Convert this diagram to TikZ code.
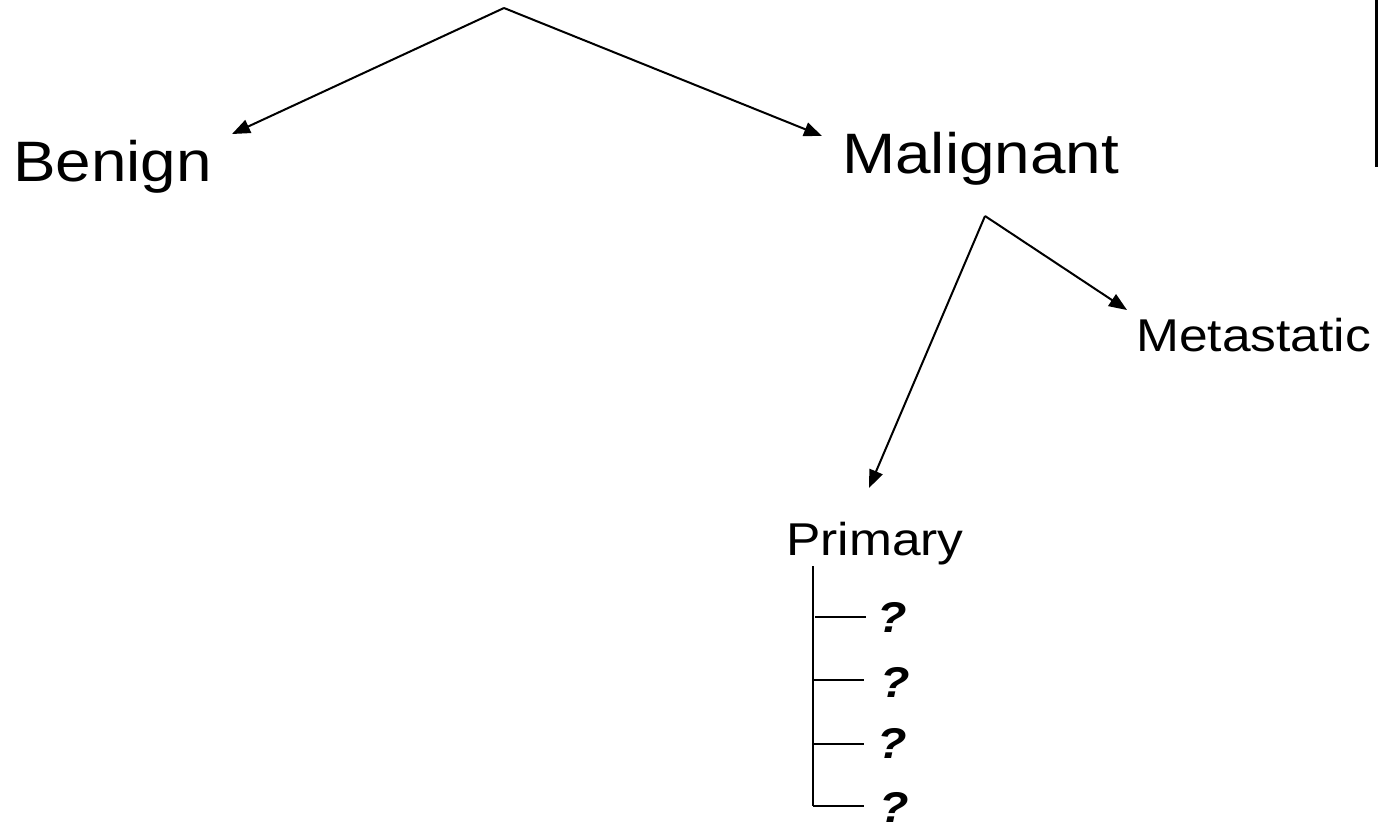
\documentclass[tikz,border=0pt]{standalone}
\usepackage{fontspec}
\setmainfont{Liberation Sans}
\usetikzlibrary{arrows.meta}
\newcommand{\wide}[1]{\scalebox{1.12}[1]{#1}}
\tikzset{
  bigtxt/.style={font=\fontsize{57}{68}\selectfont, inner sep=0pt, anchor=base west},
  midtxt/.style={font=\fontsize{46}{55}\selectfont, inner sep=0pt, anchor=base west},
  qtxt/.style={font=\fontsize{43}{52}\selectfont\bfseries\itshape, inner sep=0pt, anchor=base west},
  arr/.style={line width=2pt, -{Triangle[length=18pt,width=14pt]}},
  ladder/.style={line width=2.7pt},
}
\begin{document}
\begin{tikzpicture}[x=1pt,y=-1pt]
\useasboundingbox (0,0) rectangle (1389,825);
% text nodes
\node[bigtxt] (benign) at (13,181) {\wide{Benign}};
\node[bigtxt] (malignant) at (842,173) {\wide{Malignant}};
\node[midtxt] (metastatic) at (1136,351) {\wide{Metastatic}};
\node[midtxt] (primary) at (786,555) {\wide{Primary}};
\node[qtxt] (q1) at (877,632) {\wide{?}};
\node[qtxt] (q2) at (880,697) {\wide{?}};
\node[qtxt] (q3) at (877,758) {\wide{?}};
\node[qtxt] (q4) at (879,822) {\wide{?}};
% coordinates
\coordinate (top) at (504,8);
\coordinate (tipB) at (232,134);
\coordinate (tipM) at (822,136);
\coordinate (mtop) at (985,216);
\coordinate (tipMet) at (1127,310);
\coordinate (tipP) at (869,488);
\coordinate (lTop) at (813,566);
\coordinate (lBot) at (813,806);
\coordinate (h1a) at (815,617); \coordinate (h1b) at (866,617);
\coordinate (h2a) at (813,680); \coordinate (h2b) at (864,680);
\coordinate (h3a) at (813,744); \coordinate (h3b) at (864,744);
\coordinate (h4a) at (813,806); \coordinate (h4b) at (864,806);
\coordinate (rTop) at (1376,0);
\coordinate (rBot) at (1376,167);
% connectors
\draw[arr] (top) -- (tipB);
\draw[arr] (top) -- (tipM);
\draw[arr] (mtop) -- (tipP);
\draw[arr] (mtop) -- (tipMet);
\draw[ladder] (lTop) -- (lBot);
\draw[ladder] (h1a) -- (h1b);
\draw[ladder] (h2a) -- (h2b);
\draw[ladder] (h3a) -- (h3b);
\draw[ladder] (h4a) -- (h4b);
\draw[line width=3pt] (rTop) -- (rBot);
\end{tikzpicture}
\end{document}
